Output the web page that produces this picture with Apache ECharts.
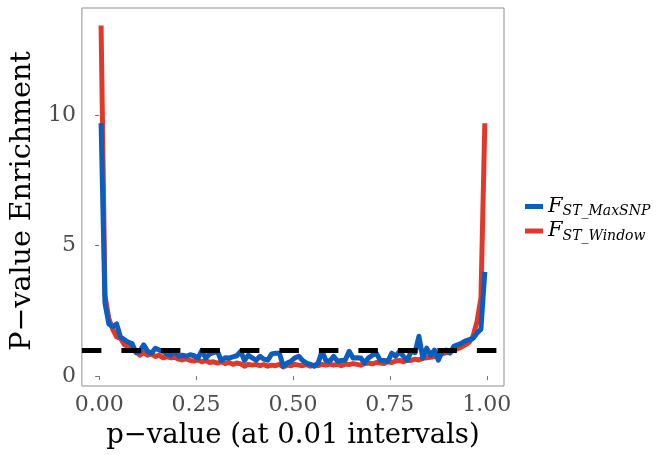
<!DOCTYPE html>
<html>
<head>
<meta charset="utf-8">
<script src="https://cdn.jsdelivr.net/npm/echarts@6/dist/echarts.min.js"></script>
<style>html,body{margin:0;padding:0;background:#fff;}#c{width:658px;height:455px;}</style>
</head>
<body>
<div id="c"></div>
<script>
// p-value bin midpoints (0.01 intervals)
const pvals = [0.005,0.015,0.025,0.035,0.045,0.055,0.065,0.075,0.085,0.095,
0.105,0.115,0.125,0.135,0.145,0.155,0.165,0.175,0.185,0.195,
0.205,0.215,0.225,0.235,0.245,0.255,0.265,0.275,0.285,0.295,
0.305,0.315,0.325,0.335,0.345,0.355,0.365,0.375,0.385,0.395,
0.405,0.415,0.425,0.435,0.445,0.455,0.465,0.475,0.485,0.495,
0.505,0.515,0.525,0.535,0.545,0.555,0.565,0.575,0.585,0.595,
0.605,0.615,0.625,0.635,0.645,0.655,0.665,0.675,0.685,0.695,
0.705,0.715,0.725,0.735,0.745,0.755,0.765,0.775,0.785,0.795,
0.805,0.815,0.825,0.835,0.845,0.855,0.865,0.875,0.885,0.895,
0.905,0.915,0.925,0.935,0.945,0.955,0.965,0.975,0.985,0.995];

const windowVals = [13.45,3.1,2.2,1.8,1.5,1.45,1.2,1.15,1.0,0.95,
0.8,0.9,0.8,0.85,0.75,0.8,0.7,0.75,0.7,0.72,
0.65,0.62,0.66,0.6,0.58,0.62,0.55,0.6,0.52,0.55,
0.5,0.55,0.48,0.52,0.45,0.5,0.47,0.38,0.45,0.42,
0.45,0.4,0.44,0.38,0.42,0.4,0.45,0.35,0.42,0.4,
0.45,0.42,0.4,0.44,0.38,0.42,0.4,0.45,0.42,0.46,
0.42,0.45,0.4,0.46,0.44,0.48,0.45,0.42,0.48,0.5,
0.47,0.52,0.5,0.48,0.55,0.52,0.58,0.6,0.55,0.62,
0.6,0.65,0.62,0.68,0.7,0.72,0.75,0.8,0.85,0.9,
0.95,1.0,1.05,1.12,1.2,1.3,1.55,2.1,3.0,9.7];

const maxSnpVals = [9.7,2.8,2.0,1.9,2.0,1.5,1.4,1.3,1.25,0.9,
0.95,1.2,0.95,0.88,1.07,1.0,0.95,0.85,0.8,0.95,
0.76,0.8,0.76,0.82,0.78,0.69,0.99,0.69,0.85,0.9,
0.95,0.6,0.7,0.69,0.74,0.78,0.95,0.6,0.8,0.7,
0.61,0.76,0.65,0.61,0.85,0.88,0.88,0.38,0.5,0.57,
0.7,0.76,0.6,0.5,0.45,0.38,0.5,0.95,0.6,0.57,
0.76,0.57,0.6,0.62,0.95,0.69,0.7,0.69,0.5,0.7,
0.8,0.88,0.61,0.6,0.57,0.88,0.76,0.95,0.75,0.61,
0.95,0.9,1.53,0.69,1.07,0.8,1.0,0.61,0.95,1.0,
0.88,1.14,1.2,1.26,1.35,1.4,1.45,1.65,1.8,4.0];

const xTicks = [0, 0.25, 0.5, 0.75, 1];
const yTicks = [0, 5, 10];
const refLevel = 1;
const seriesNames = ['F_ST_MaxSNP', 'F_ST_Window'];

const FONT = 'DejaVu Serif';
const RED = '#E0392A';
const BLUE = '#0B5EBE';

const chart = echarts.init(document.getElementById('c'), null, {renderer: 'canvas'});
const pairs = vals => vals.map((v, i) => [pvals[i], v]);

chart.setOption({
  animation: false,
  backgroundColor: '#fff',
  grid: {left: 79, top: 8, width: 425, height: 380, show: true, borderColor: '#8f8f8f', borderWidth: 1, backgroundColor: 'transparent'},
  xAxis: {
    type: 'value', min: -0.0445, max: 1.0445,
    name: 'p\u2212value (at 0.01 intervals)', nameLocation: 'middle', nameGap: 36,
    nameTextStyle: {fontFamily: FONT, fontSize: 27.5, color: '#000'},
    axisLine: {show: false},
    axisTick: {show: true, length: 4, customValues: xTicks, lineStyle: {color: '#777'}},
    axisLabel: {customValues: xTicks, fontFamily: FONT, fontSize: 22, color: '#4d4d4d', margin: 8, formatter: v => v.toFixed(2)},
    splitLine: {show: false}
  },
  yAxis: {
    type: 'value', min: -0.38, max: 14.12,
    name: 'P\u2212value Enrichment', nameLocation: 'middle', nameGap: 40,
    nameTextStyle: {fontFamily: FONT, fontSize: 28.5, color: '#000', padding: [0, 8, 0, 0]},
    axisLine: {show: false},
    axisTick: {show: true, length: 4, customValues: yTicks, lineStyle: {color: '#777'}},
    axisLabel: {customValues: yTicks, fontFamily: FONT, fontSize: 22, color: '#4d4d4d', margin: 6},
    splitLine: {show: false}
  },
  legend: {
    orient: 'vertical', left: 520, top: 191, itemGap: 2,
    itemWidth: 18, itemHeight: 5, icon: 'rect',
    data: seriesNames,
    formatter: n => n === seriesNames[0] ? '{f|F}{s|ST_MaxSNP}' : '{f|F}{s|ST_Window}',
    textStyle: {
      fontFamily: FONT, color: '#000',
      rich: {
        f: {fontFamily: FONT, fontStyle: 'italic', fontSize: 21, color: '#000'},
        s: {fontFamily: FONT, fontStyle: 'italic', fontSize: 14, color: '#000', padding: [10, 0, 0, 0]}
      }
    }
  },
  series: [
    {name: seriesNames[1], type: 'line', data: pairs(windowVals), showSymbol: false, symbol: 'none', color: RED,
     lineStyle: {color: RED, width: 5, cap: 'butt', join: 'round'}, z: 2},
    {name: seriesNames[0], type: 'line', data: pairs(maxSnpVals), showSymbol: false, symbol: 'none', color: BLUE,
     lineStyle: {color: BLUE, width: 5, cap: 'butt', join: 'round'}, z: 3},
    {name: 'ref', type: 'line', data: [], z: 4,
     markLine: {silent: true, symbol: 'none', label: {show: false},
       lineStyle: {color: '#000', width: 5, type: [19.5, 20]},
       data: [{yAxis: refLevel}]}}
  ]
});
</script>
</body>
</html>
